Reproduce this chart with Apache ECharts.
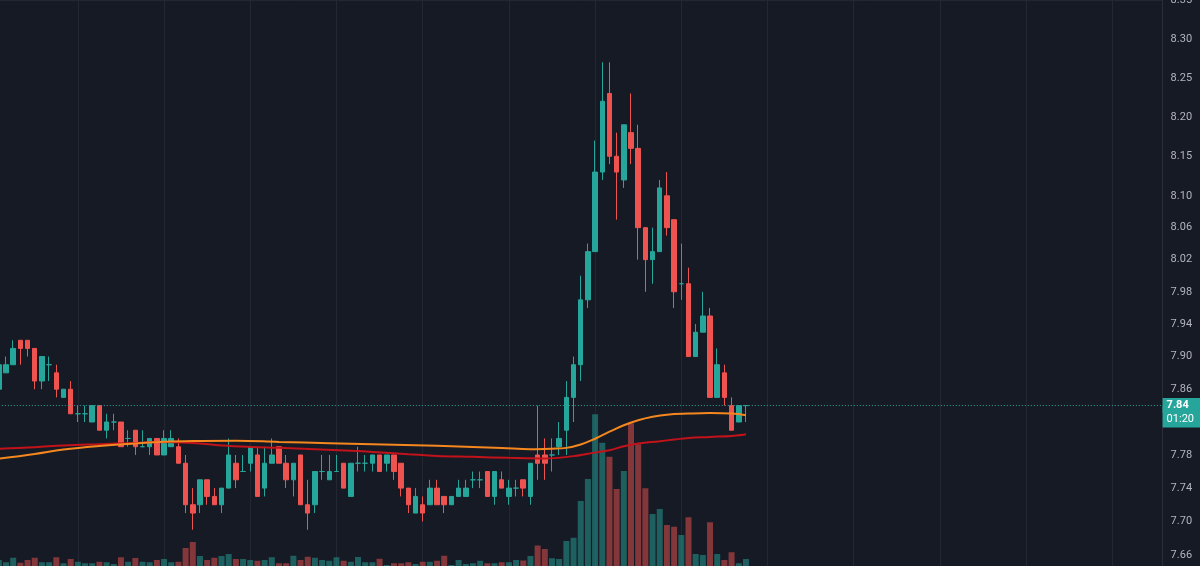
<!DOCTYPE html>
<html>
<head>
<meta charset="utf-8">
<title>Price chart</title>
<script src="https://cdn.jsdelivr.net/npm/echarts@6/dist/echarts.min.js"></script>
<style>
    html, body { margin: 0; padding: 0; background: #161a25; }
    #mainView { width: 1200px; height: 566px; }
</style>
</head>
<body>
<div id="mainView"></div>
<script>
// 5 minute candles: [open, close, low, high]
var candles = [
    [7.86, 7.89, 7.86, 7.89], [7.88, 7.89, 7.88, 7.90], [7.89, 7.91, 7.89, 7.92], [7.92, 7.91, 7.89, 7.92],
    [7.92, 7.91, 7.90, 7.92], [7.91, 7.87, 7.86, 7.91], [7.87, 7.90, 7.86, 7.90], [7.89, 7.89, 7.87, 7.90],
    [7.88, 7.86, 7.85, 7.89], [7.85, 7.86, 7.85, 7.86], [7.86, 7.83, 7.83, 7.87], [7.83, 7.83, 7.82, 7.84],
    [7.83, 7.83, 7.82, 7.84], [7.82, 7.84, 7.82, 7.84], [7.84, 7.81, 7.81, 7.84], [7.81, 7.82, 7.80, 7.83],
    [7.82, 7.82, 7.81, 7.83], [7.82, 7.79, 7.79, 7.82], [7.80, 7.80, 7.79, 7.81], [7.81, 7.79, 7.78, 7.81],
    [7.79, 7.79, 7.79, 7.81], [7.79, 7.80, 7.78, 7.80], [7.80, 7.78, 7.78, 7.80], [7.78, 7.80, 7.78, 7.81],
    [7.79, 7.80, 7.79, 7.81], [7.79, 7.77, 7.77, 7.80], [7.77, 7.72, 7.71, 7.78], [7.72, 7.71, 7.69, 7.74],
    [7.72, 7.75, 7.71, 7.75], [7.75, 7.73, 7.72, 7.75], [7.73, 7.72, 7.72, 7.74], [7.72, 7.74, 7.71, 7.74],
    [7.74, 7.78, 7.74, 7.80], [7.77, 7.75, 7.74, 7.78], [7.76, 7.76, 7.76, 7.78], [7.77, 7.79, 7.76, 7.79],
    [7.78, 7.73, 7.73, 7.79], [7.74, 7.77, 7.73, 7.79], [7.77, 7.78, 7.77, 7.80], [7.79, 7.77, 7.77, 7.79],
    [7.77, 7.75, 7.74, 7.78], [7.75, 7.77, 7.73, 7.77], [7.78, 7.72, 7.72, 7.78], [7.72, 7.71, 7.69, 7.75],
    [7.72, 7.76, 7.71, 7.76], [7.76, 7.76, 7.75, 7.78], [7.75, 7.76, 7.75, 7.78], [7.76, 7.76, 7.76, 7.78],
    [7.77, 7.74, 7.74, 7.77], [7.73, 7.77, 7.73, 7.77], [7.77, 7.77, 7.76, 7.79], [7.77, 7.77, 7.76, 7.78],
    [7.77, 7.78, 7.76, 7.78], [7.78, 7.76, 7.76, 7.78], [7.77, 7.78, 7.76, 7.78], [7.78, 7.76, 7.75, 7.78],
    [7.77, 7.74, 7.73, 7.77], [7.74, 7.72, 7.71, 7.74], [7.71, 7.73, 7.71, 7.74], [7.72, 7.71, 7.70, 7.73],
    [7.72, 7.74, 7.72, 7.75], [7.74, 7.72, 7.72, 7.75], [7.73, 7.72, 7.71, 7.73], [7.72, 7.73, 7.72, 7.73],
    [7.73, 7.74, 7.73, 7.75], [7.73, 7.74, 7.73, 7.75], [7.75, 7.75, 7.74, 7.76], [7.75, 7.75, 7.74, 7.76],
    [7.76, 7.73, 7.73, 7.76], [7.73, 7.76, 7.72, 7.76], [7.75, 7.74, 7.74, 7.76], [7.73, 7.74, 7.72, 7.75],
    [7.74, 7.74, 7.73, 7.75], [7.75, 7.74, 7.73, 7.75], [7.73, 7.77, 7.72, 7.77], [7.78, 7.77, 7.75, 7.84],
    [7.78, 7.77, 7.75, 7.80], [7.78, 7.78, 7.76, 7.80], [7.79, 7.80, 7.78, 7.82], [7.81, 7.85, 7.78, 7.87],
    [7.85, 7.89, 7.82, 7.90], [7.89, 7.97, 7.87, 8.00], [7.97, 8.03, 7.96, 8.04], [8.03, 8.13, 8.03, 8.17],
    [8.13, 8.22, 8.12, 8.27], [8.23, 8.15, 8.14, 8.27], [8.15, 8.13, 8.07, 8.18], [8.12, 8.19, 8.11, 8.19],
    [8.18, 8.16, 8.14, 8.23], [8.16, 8.06, 8.02, 8.19], [8.06, 8.02, 7.98, 8.06], [8.02, 8.03, 7.99, 8.06],
    [8.03, 8.11, 8.03, 8.12], [8.10, 8.06, 8.05, 8.13], [8.07, 7.98, 7.96, 8.07], [7.99, 7.99, 7.97, 8.04],
    [7.99, 7.90, 7.90, 8.01], [7.90, 7.93, 7.90, 7.94], [7.93, 7.95, 7.93, 7.98], [7.95, 7.85, 7.85, 7.96],
    [7.85, 7.89, 7.85, 7.91], [7.88, 7.85, 7.84, 7.89], [7.84, 7.81, 7.81, 7.85], [7.82, 7.84, 7.82, 7.84],
    [7.84, 7.84, 7.82, 7.84]
];

// volume per candle (thousands)
var volumes = [
    24, 15, 33, 13, 24, 33, 15, 15, 35, 11, 28, 17, 11, 11, 17, 15, 8, 35, 17, 32,
    17, 15, 24, 28, 15, 17, 72, 96, 40, 24, 33, 40, 48, 28, 28, 24, 21, 24, 35, 11,
    11, 41, 24, 37, 33, 24, 21, 35, 21, 17, 36, 15, 15, 29, 4, 11, 11, 15, 8, 17,
    17, 21, 41, 4, 24, 8, 11, 21, 11, 11, 15, 15, 24, 22, 40, 82, 68, 31, 28, 100,
    113, 260, 348, 607, 493, 437, 308, 380, 571, 487, 311, 208, 228, 164, 157, 124, 195, 48, 44, 175,
    48, 24, 55, 11, 28
];

// moving averages, read at [candle index, value]
var maFast = [
    [0, 7.7755], [5, 7.7813], [9, 7.7866], [14, 7.7909], [19, 7.7940], [23, 7.7961], [27, 7.7970],
    [33, 7.7973], [39, 7.7958], [46, 7.7943], [52, 7.7931], [58, 7.7918], [64, 7.7903], [70, 7.7885],
    [74, 7.7870], [77, 7.7876], [79, 7.7886], [81, 7.7927], [83, 7.7997], [85, 7.8082], [87, 7.8160],
    [89, 7.8221], [91, 7.8263], [93, 7.8289], [96, 7.8302], [99, 7.8309], [102, 7.8302], [104, 7.8281]
];
var maSlow = [
    [0, 7.7876], [5, 7.7894], [9, 7.7915], [14, 7.7931], [19, 7.7946], [22, 7.7957], [27, 7.7944],
    [31, 7.7916], [35, 7.7898], [39, 7.7886], [44, 7.7870], [49, 7.7852], [52, 7.7837], [57, 7.7810],
    [61, 7.7789], [66, 7.7777], [71, 7.7765], [76, 7.7758], [80, 7.7786], [82, 7.7816], [85, 7.7858],
    [87, 7.7906], [89, 7.7939], [92, 7.7967], [94, 7.7987], [96, 7.8007], [99, 7.8019], [102, 7.8031],
    [104, 7.8051]
];

var priceTicks = [8.35, 8.30, 8.25, 8.20, 8.15, 8.10, 8.06, 8.02, 7.98, 7.94, 7.90, 7.86, 7.82, 7.78, 7.74, 7.70, 7.66];
var lastPrice = 7.84;
var countdown = '01:20';

var upColor = '#26a69a';
var downColor = '#ef5350';
var gridColor = '#232733';

// time slots, incl. empty space on the right
var times = [];
for (var i = 0; i < 163; i++) {
    var m = 9 * 60 + 5 + i * 5;
    times.push(('0' + Math.floor(m / 60) % 24).slice(-2) + ':' + ('0' + m % 60).slice(-2));
}

var chart = echarts.init(document.getElementById('mainView'));
chart.setOption({
    animation: false,
    backgroundColor: '#161a25',
    grid: [
        { left: -1.18, top: 0, width: 1163.8, height: 566, outerBoundsMode: 'none' },
        { left: -1.18, top: 0, width: 1163.8, height: 566, outerBoundsMode: 'none' }
    ],
    xAxis: [
        {
            type: 'category',
            gridIndex: 0,
            data: times,
            boundaryGap: false,
            axisLine: { show: false },
            axisTick: { show: false },
            axisLabel: { show: false },
            splitLine: {
                show: true,
                interval: function (idx) { return idx % 12 === 11; },
                lineStyle: { color: gridColor, width: 1 }
            }
        },
        {
            type: 'category',
            gridIndex: 1,
            data: times,
            boundaryGap: false,
            show: false
        }
    ],
    yAxis: [
        {
            type: 'log',
            gridIndex: 0,
            position: 'right',
            min: 7.6468,
            max: 8.3505,
            axisLine: { show: true, lineStyle: { color: '#2a2e39' } },
            axisTick: { show: false },
            axisLabel: {
                customValues: priceTicks,
                formatter: function (v) { return v.toFixed(2); },
                color: '#b2b5be',
                fontSize: 11,
                fontFamily: 'Roboto',
                margin: 8
            },
            splitLine: {
                show: true,
                customValues: priceTicks,
                lineStyle: { color: gridColor, width: 1 }
            }
        },
        {
            type: 'value',
            gridIndex: 1,
            min: 0,
            max: 2264,
            show: false
        }
    ],
    series: [
        {
            name: 'Volume',
            type: 'bar',
            xAxisIndex: 1,
            yAxisIndex: 1,
            barWidth: 6,
            z: 1,
            data: volumes.map(function (v, i) {
                var up = candles[i][1] >= candles[i][0];
                return { value: v, itemStyle: { color: up ? 'rgba(38,166,154,0.5)' : 'rgba(239,83,80,0.5)' } };
            })
        },
        {
            name: 'Price',
            type: 'candlestick',
            xAxisIndex: 0,
            yAxisIndex: 0,
            barWidth: 5,
            z: 3,
            itemStyle: {
                color: upColor,
                color0: downColor,
                borderColor: upColor,
                borderColor0: downColor,
                borderColorDoji: upColor,
                borderWidth: 1
            },
            data: candles,
            markLine: {
                symbol: 'none',
                silent: true,
                animation: false,
                data: [
                    {
                        yAxis: lastPrice,
                        lineStyle: { color: 'rgba(0,0,0,0)', width: 1 },
                        label: {
                            show: true, position: 'end', distance: 0,
                            formatter: countdown,
                            align: 'left', verticalAlign: 'top',
                            backgroundColor: upColor, color: '#ffffff',
                            fontSize: 11, fontFamily: 'Roboto',
                            width: 30, padding: [8, 4, 3, 4]
                        }
                    },
                    {
                        yAxis: lastPrice,
                        lineStyle: { color: upColor, type: [1, 2], width: 1 },
                        label: {
                            show: true, position: 'end', distance: 0,
                            formatter: function (p) { return p.value.toFixed(2); },
                            align: 'left', verticalAlign: 'middle',
                            backgroundColor: upColor, color: '#ffffff',
                            fontSize: 11, fontWeight: 'bold', fontFamily: 'Roboto',
                            width: 30, padding: [3, 4, 1, 4]
                        }
                    }
                ]
            }
        },
        {
            name: 'MA slow',
            type: 'line',
            xAxisIndex: 0,
            yAxisIndex: 0,
            z: 4,
            data: maSlow,
            showSymbol: false,
            smooth: 0.4,
            lineStyle: { color: '#c2121a', width: 2 }
        },
        {
            name: 'MA fast',
            type: 'line',
            xAxisIndex: 0,
            yAxisIndex: 0,
            z: 5,
            data: maFast,
            showSymbol: false,
            smooth: 0.4,
            lineStyle: { color: '#f5871f', width: 2 }
        }
    ]
});
</script>
</body>
</html>
